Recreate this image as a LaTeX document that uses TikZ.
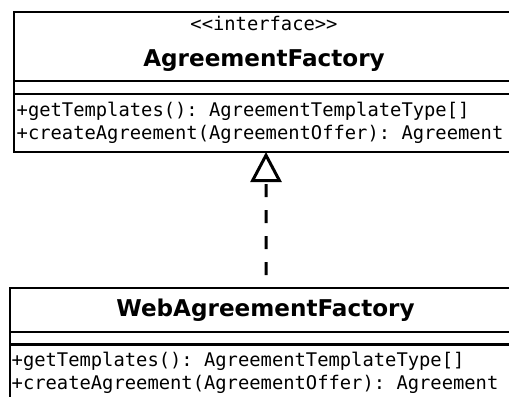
\documentclass[tikz,border=0pt]{standalone}
\usepackage{fontspec}
\setmainfont{DejaVu Sans}
\setmonofont{DejaVu Sans Mono}
\usetikzlibrary{arrows.meta}
\tikzset{
  classbox/.style={draw=black, line width=2.5bp, inner sep=0pt, outer sep=0pt},
  sepline/.style={draw=black, line width=2.5bp},
  monotext/.style={font=\ttfamily\fontsize{18.8bp}{23.5bp}\selectfont, inner sep=0pt, text=black},
  titletext/.style={font=\bfseries\fontsize{23.1bp}{28bp}\selectfont, inner sep=0pt, text=black},
  realize/.style={draw=black, line width=3bp, dash pattern=on 13bp off 13bp, dash phase=13bp,
    -{Triangle[open, length=30bp, width=31bp]}}
}
\begin{document}
\begin{tikzpicture}[x=1bp, y=-1bp]
\useasboundingbox (0,0) rectangle (509,396);
\clip (0,0) rectangle (509,396);
\fill[white] (0,0) rectangle (509,396);
% interface box
\node[classbox, anchor=north west, minimum width=504bp, minimum height=140bp] (ifc) at (14,12) {};
\draw[sepline] (14,81) -- (518,81);
\draw[sepline] (14,94) -- (518,94);
\node[monotext, anchor=base] (ifcst) at (264,30) {<\kern0pt<interface>\kern0pt>};
\node[titletext, anchor=base] (ifcname) at (264,66.5) {AgreementFactory};
\node[monotext, anchor=base west] (ifcm1) at (16.5,116) {+getTemplates(): AgreementTemplateType[]};
\node[monotext, anchor=base west] (ifcm2) at (16.5,139) {+createAgreement(AgreementOffer): Agreement};
% implementation box
\node[classbox, anchor=north west, minimum width=512bp, minimum height=130bp] (impl) at (10,288) {};
\draw[sepline] (10,332) -- (522,332);
\draw[sepline] (10,344.5) -- (522,344.5);
\node[titletext, anchor=base] (implname) at (265.5,316.7) {WebAgreementFactory};
\node[monotext, anchor=base west] (implm1) at (11.5,366.5) {+getTemplates(): AgreementTemplateType[]};
\node[monotext, anchor=base west] (implm2) at (11.5,389.5) {+createAgreement(AgreementOffer): Agreement};
% realization
\draw[realize] (impl.north) -- (ifc.south);
\end{tikzpicture}
\end{document}
